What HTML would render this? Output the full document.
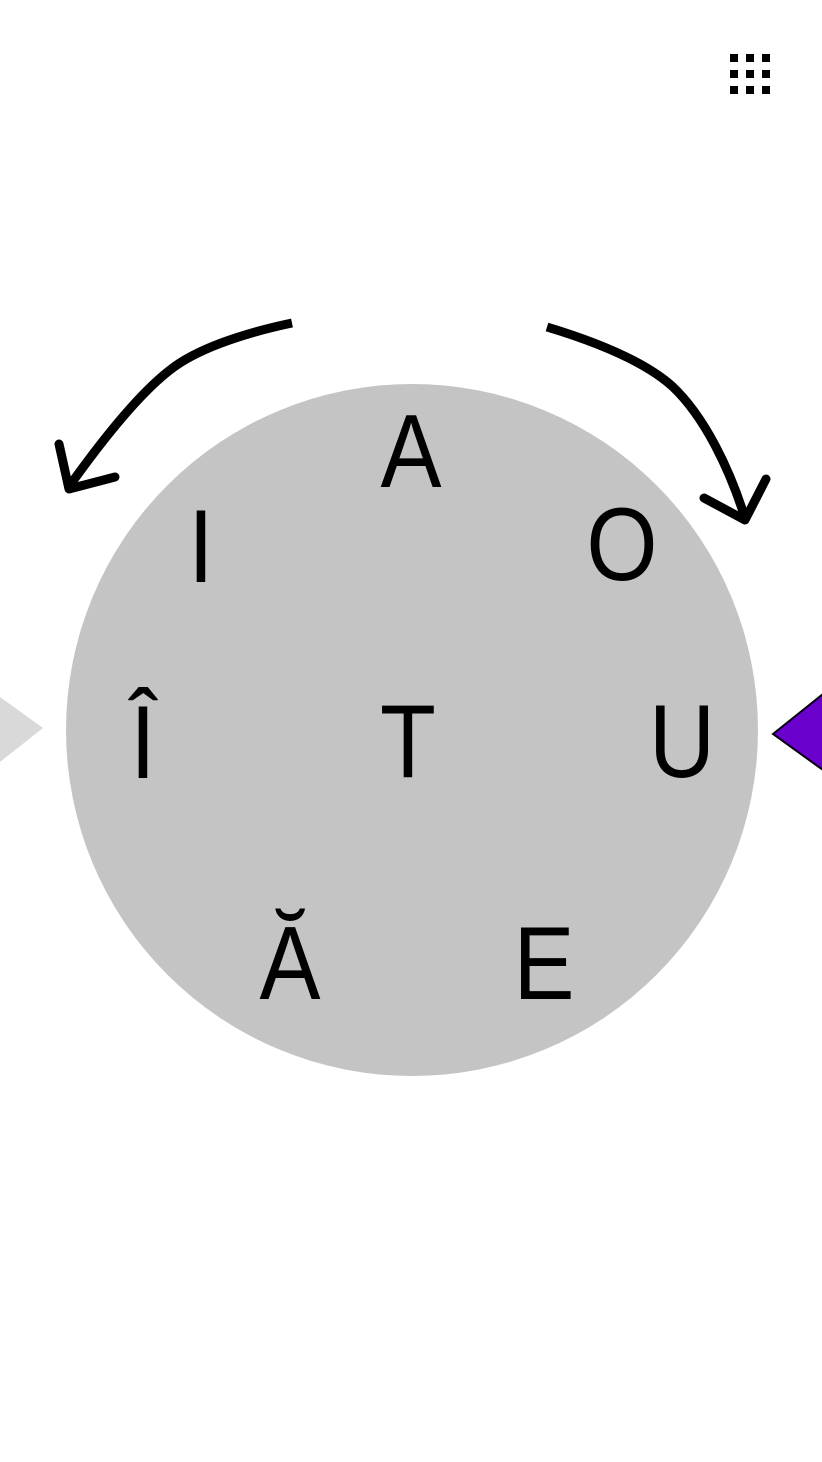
<!DOCTYPE html>
<html><head><meta charset="utf-8"><style>
html,body{margin:0;padding:0;background:#fff;width:822px;height:1462px;overflow:hidden}
svg{display:block}
text{font-family:"Liberation Sans",sans-serif;font-size:104px;fill:#000;text-anchor:middle}
</style></head><body>
<svg width="822" height="1462" viewBox="0 0 822 1462">
  <g fill="#000">
    <rect x="730" y="54" width="8" height="8"/><rect x="746" y="54" width="8" height="8"/><rect x="762" y="54" width="8" height="8"/>
    <rect x="730" y="70" width="8" height="8"/><rect x="746" y="70" width="8" height="8"/><rect x="762" y="70" width="8" height="8"/>
    <rect x="730" y="86" width="8" height="8"/><rect x="746" y="86" width="8" height="8"/><rect x="762" y="86" width="8" height="8"/>
  </g>
  <g fill="none" stroke="#000" stroke-width="9" stroke-linecap="round" stroke-linejoin="round">
    <path d="M292 323 C240 334 195 350 170 370 C135 397 95 450 68 488" stroke-linecap="butt"/>
    <path d="M59 444 L69 489 L115 477"/>
  </g>
  <g fill="none" stroke="#000" stroke-width="9" stroke-linecap="round" stroke-linejoin="round">
    <path d="M547 327 C600 343 645 362 672 386 C705 417 730 470 745 518" stroke-linecap="butt"/>
    <path d="M704 498 L745 520 L766 479"/>
  </g>
  <circle cx="412" cy="730" r="346" fill="#c4c4c4"/>
  <polygon points="0,697 43,728 0,762" fill="#d9d9d9"/>
  <polygon points="773,734 823,694 823,770" fill="#6a00cc" stroke="#000" stroke-width="2"/>
  <text transform="translate(411 487) scale(0.88 1)">A</text>
  <text transform="translate(201 582) scale(0.88 1)">I</text>
  <text transform="translate(622 580) scale(0.88 1)">O</text>
  <text transform="translate(143 778) scale(0.88 1)">Î</text>
  <text transform="translate(408 777) scale(0.88 1)">T</text>
  <text transform="translate(682 777) scale(0.88 1)">U</text>
  <text transform="translate(290 999) scale(0.88 1)">Ă</text>
  <text transform="translate(544 999) scale(0.88 1)">E</text>
</svg>
</body></html>
